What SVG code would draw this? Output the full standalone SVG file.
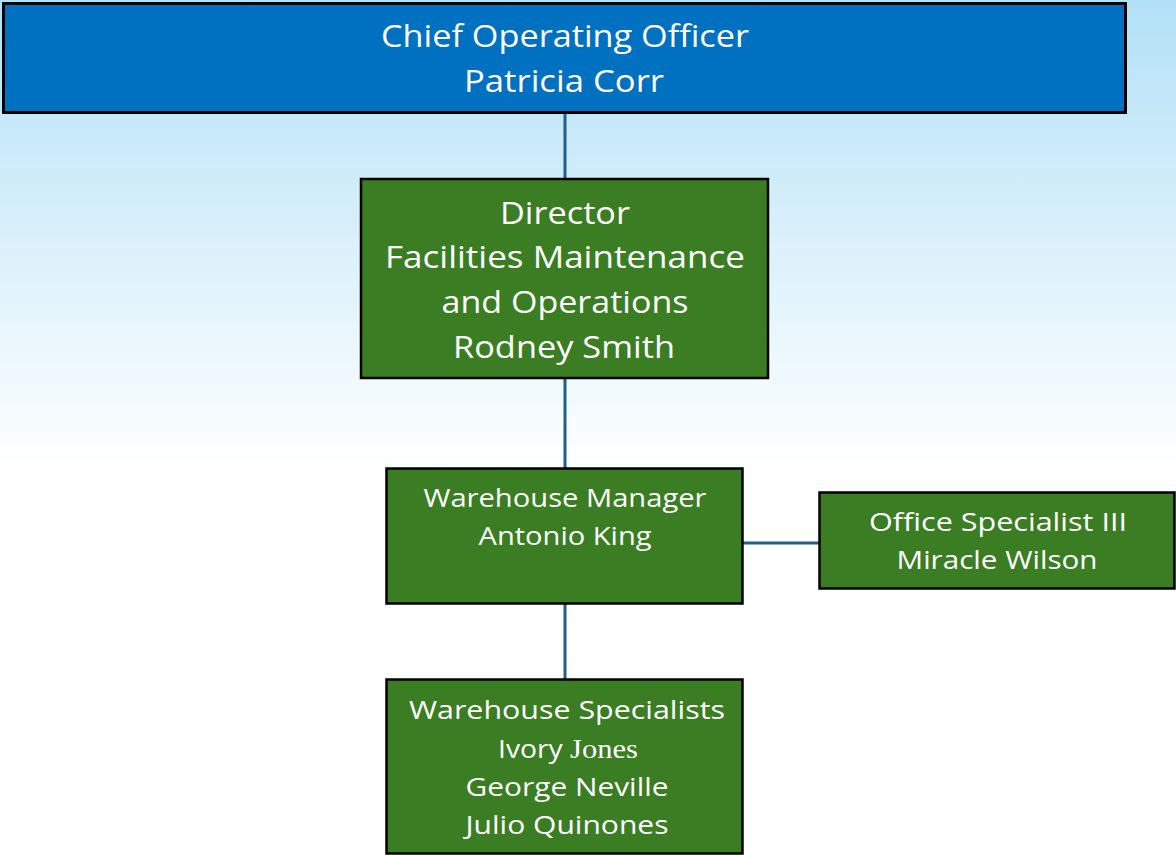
<svg xmlns="http://www.w3.org/2000/svg" width="1176" height="855" viewBox="0 0 1176 855">
<defs>
<linearGradient id="bg" x1="0" y1="0" x2="0" y2="1" gradientUnits="objectBoundingBox">
<stop offset="0" stop-color="#B3E1F7"/>
<stop offset="0.55" stop-color="#FFFFFF"/>
<stop offset="1" stop-color="#FFFFFF"/>
</linearGradient>
<style>
.blue{fill:#0070C0;stroke:#000;stroke-width:3}
.green{fill:#3A7D22;stroke:#000;stroke-width:2.5}
.t{fill:#fff;font-family:"Open Sans","Noto Sans",sans-serif;text-anchor:middle}
.big{font-size:31px}
.sm{font-size:25px}
.conn{stroke:#1F5F8B;stroke-width:3;fill:none}
.serif{font-family:"Liberation Serif",serif;font-size:27px}
</style>
</defs>
<rect x="0" y="0" width="1176" height="855" fill="url(#bg)"/>
<g id="connectors">
<line class="conn" x1="565" y1="113" x2="565" y2="179"/>
<line class="conn" x1="565" y1="378" x2="565" y2="468"/>
<line class="conn" x1="565" y1="603" x2="565" y2="679"/>
<line class="conn" x1="742" y1="543" x2="819" y2="543"/>
</g>
<g id="coo">
<rect class="blue" x="3.5" y="3.5" width="1122" height="109"/>
<text class="t big" x="565" y="47" textLength="368" lengthAdjust="spacingAndGlyphs">Chief Operating Officer</text>
<text class="t big" x="564" y="92" textLength="200" lengthAdjust="spacingAndGlyphs">Patricia Corr</text>
</g>
<g id="director">
<rect class="green" x="361" y="179" width="407" height="199"/>
<text class="t big" x="565" y="224" textLength="130" lengthAdjust="spacingAndGlyphs">Director</text>
<text class="t big" x="565" y="268" textLength="360" lengthAdjust="spacingAndGlyphs">Facilities Maintenance</text>
<text class="t big" x="565" y="313" textLength="247" lengthAdjust="spacingAndGlyphs">and Operations</text>
<text class="t big" x="564" y="358" textLength="222" lengthAdjust="spacingAndGlyphs">Rodney Smith</text>
</g>
<g id="manager">
<rect class="green" x="386.5" y="468.5" width="356" height="135"/>
<text class="t sm" x="565" y="507" textLength="283" lengthAdjust="spacingAndGlyphs">Warehouse Manager</text>
<text class="t sm" x="565" y="545" textLength="173" lengthAdjust="spacingAndGlyphs">Antonio King</text>
</g>
<g id="office">
<rect class="green" x="819.5" y="492.5" width="355" height="96"/>
<text class="t sm" x="998" y="531" textLength="258" lengthAdjust="spacingAndGlyphs">Office Specialist III</text>
<text class="t sm" x="997" y="569" textLength="201" lengthAdjust="spacingAndGlyphs">Miracle Wilson</text>
</g>
<g id="specialists">
<rect class="green" x="386.5" y="679.5" width="356" height="174"/>
<text class="t sm" x="567" y="719" textLength="316" lengthAdjust="spacingAndGlyphs">Warehouse Specialists</text>
<text class="t sm" x="568" y="758" textLength="140" lengthAdjust="spacingAndGlyphs">Ivory <tspan class="serif">Jones</tspan></text>
<text class="t sm" x="567" y="796" textLength="203" lengthAdjust="spacingAndGlyphs">George Neville</text>
<text class="t sm" x="567" y="834" textLength="203" lengthAdjust="spacingAndGlyphs">Julio Quinones</text>
</g>
</svg>
